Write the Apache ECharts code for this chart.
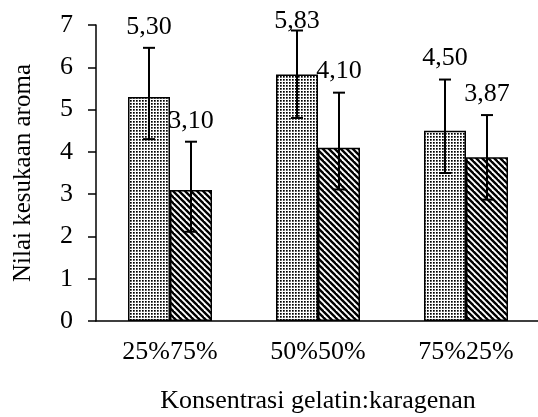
<!DOCTYPE html>
<html>
<head>
<meta charset="utf-8">
<script src="https://cdn.jsdelivr.net/npm/echarts@6/dist/echarts.min.js"></script>
<style>
  html, body { margin: 0; padding: 0; background: #fff; }
  #chart { width: 538px; height: 417px; }
</style>
</head>
<body>
<div id="chart"></div>
<script>
  // gelatin : karagenan ratios
  const gelatin = ['25%', '50%', '75%']
  const karagenan = ['75%', '50%', '25%']
  const categories = gelatin.map((g, i) => g + karagenan[i])

  // mean scores (dotted bar, hatched bar)
  const dotted = [5.30, 5.83, 4.50]
  const hatched = [3.10, 4.10, 3.87]
  // error bar ends
  const dottedLow = [4.30, 4.80, 3.50]
  const dottedHigh = [6.46, 6.87, 5.71]
  const hatchedLow = [2.11, 3.11, 2.87]
  const hatchedHigh = [4.24, 5.40, 4.87]

  const yTicks = [0, 7, 1] // min, max, step

  const FONT = '"Liberation Serif", "Times New Roman", serif'
  const BAR_W = 42

  const makeDots = () => {
    const c = document.createElement('canvas')
    c.width = 3
    c.height = 3
    const ctx = c.getContext('2d')
    ctx.fillStyle = '#fff'
    ctx.fillRect(0, 0, 3, 3)
    ctx.fillStyle = '#000'
    ctx.fillRect(1, 1, 1.7, 1.7)
    return c
  }

  const makeStripes = () => {
    const s = 6
    const c = document.createElement('canvas')
    c.width = s
    c.height = s
    const ctx = c.getContext('2d')
    ctx.fillStyle = '#fff'
    ctx.fillRect(0, 0, s, s)
    ctx.strokeStyle = '#000'
    ctx.lineWidth = 2.4
    for (let k = -1; k <= 1; k++) {
      ctx.beginPath()
      ctx.moveTo(k * s - 1, -1)
      ctx.lineTo(k * s + s + 1, s + 1)
      ctx.stroke()
    }
    return c
  }

  const errorSeries = (means, low, high, side) => ({
    type: 'custom',
    z: 5,
    data: means.map((m, i) => [i, low[i], high[i], m]),
    renderItem: (params, api) => {
      const i = api.value(0)
      const dx = side * BAR_W / 2
      const top = api.coord([i, api.value(2)])
      const bot = api.coord([i, api.value(1)])
      const x = top[0] + dx
      const cap = 6
      const style = { stroke: '#000', lineWidth: 2 }
      // label sits above the whisker, kept inside the top of the picture
      const labelY = Math.max(top[1] - 8, 34)
      return {
        type: 'group',
        children: [
          { type: 'line', shape: { x1: x, y1: top[1], x2: x, y2: bot[1] }, style },
          { type: 'line', shape: { x1: x - cap, y1: top[1], x2: x + cap, y2: top[1] }, style },
          { type: 'line', shape: { x1: x - cap, y1: bot[1], x2: x + cap, y2: bot[1] }, style },
          {
            type: 'text',
            z2: 10,
            style: {
              x: x,
              y: labelY,
              text: api.value(3).toFixed(2).replace('.', ','),
              font: '26px ' + FONT,
              fill: '#000',
              align: 'center',
              verticalAlign: 'bottom'
            }
          }
        ]
      }
    }
  })

  const chart = echarts.init(document.getElementById('chart'))

  chart.setOption({
    animation: false,
    backgroundColor: '#fff',
    grid: { left: 96, right: -2, top: 25, bottom: 96, outerBoundsMode: 'none' },
    xAxis: {
      type: 'category',
      data: categories,
      name: 'Konsentrasi gelatin:karagenan',
      nameLocation: 'middle',
      nameGap: 67,
      nameTextStyle: { fontFamily: FONT, fontSize: 26, color: '#000' },
      axisLine: { lineStyle: { color: '#000', width: 1.5 } },
      axisTick: { show: false },
      axisLabel: { fontFamily: FONT, fontSize: 26, color: '#000', margin: 18 }
    },
    yAxis: {
      type: 'value',
      min: yTicks[0],
      max: yTicks[1],
      interval: yTicks[2],
      name: 'Nilai kesukaan aroma',
      nameLocation: 'middle',
      nameGap: 60,
      nameTextStyle: { fontFamily: FONT, fontSize: 25, color: '#000' },
      axisLine: { show: true, lineStyle: { color: '#000', width: 1.5 } },
      axisTick: { show: true, length: 8, lineStyle: { color: '#000', width: 1.5 } },
      axisLabel: { fontFamily: FONT, fontSize: 26, color: '#000', margin: 23 },
      splitLine: { show: false }
    },
    series: [
      {
        type: 'bar',
        data: dotted,
        barWidth: BAR_W,
        barGap: '0%',
        itemStyle: {
          color: { image: makeDots(), repeat: 'repeat' },
          borderColor: '#000',
          borderWidth: 1.5
        }
      },
      {
        type: 'bar',
        data: hatched,
        barWidth: BAR_W,
        barGap: '0%',
        itemStyle: {
          color: { image: makeStripes(), repeat: 'repeat' },
          borderColor: '#000',
          borderWidth: 1.5
        }
      },
      errorSeries(dotted, dottedLow, dottedHigh, -1),
      errorSeries(hatched, hatchedLow, hatchedHigh, 1)
    ]
  })
</script>
</body>
</html>
